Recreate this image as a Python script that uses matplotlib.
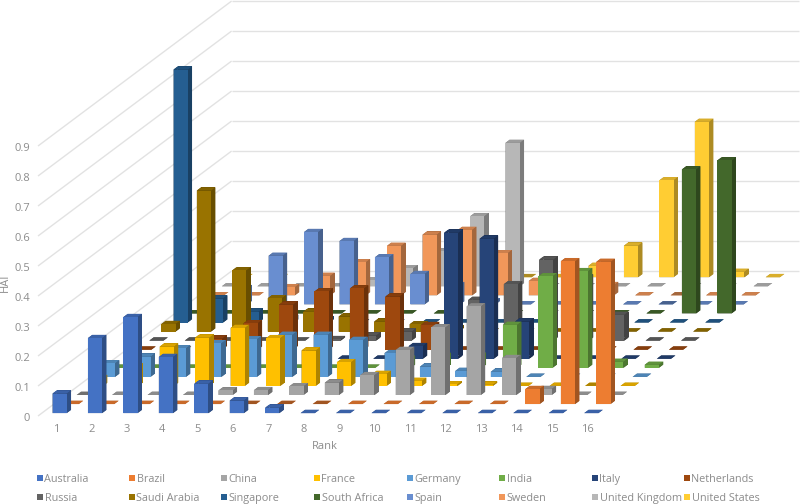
import matplotlib
matplotlib.use("Agg")
import matplotlib.pyplot as plt
from matplotlib.colors import to_rgb
from matplotlib.patches import Rectangle
from mpl_toolkits.mplot3d.art3d import Line3DCollection
import numpy as np

plt.rcParams['font.family'] = ['Open Sans', 'DejaVu Sans']

ranks = list(range(1, 17))
yticks = [0, 0.1, 0.2, 0.3, 0.4, 0.5, 0.6, 0.7, 0.8, 0.9]

australia = [0.065, 0.25, 0.32, 0.187, 0.098, 0.042, 0.018, 0, 0, 0, 0, 0, 0, 0, 0, 0]
brazil = [0, 0, 0, 0, 0, 0, 0, 0, 0, 0, 0, 0, 0, 0.05, 0.476, 0.474]
china = [0, 0, 0, 0, 0.015, 0.016, 0.029, 0.041, 0.066, 0.15, 0.225, 0.295, 0.123, 0.02, 0, 0]
france = [0.026, 0.065, 0.131, 0.161, 0.193, 0.159, 0.118, 0.079, 0.04, 0.017, 0.005, 0.004, 0, 0, 0, 0]
germany = [0.045, 0.067, 0.095, 0.112, 0.125, 0.14, 0.14, 0.123, 0.079, 0.034, 0.02, 0.017, 0, 0, 0, 0]
india = [0, 0, 0, 0, 0, 0, 0, 0, 0.03, 0.04, 0.04, 0.143, 0.305, 0.322, 0.02, 0.01]
italy = [0, 0, 0, 0, 0, 0, 0, 0, 0.042, 0.42, 0.40, 0.124, 0, 0, 0, 0]
netherlands = [0, 0, 0.037, 0.088, 0.15, 0.194, 0.204, 0.177, 0.082, 0, 0, 0, 0, 0, 0, 0]
russia = [0, 0, 0, 0, 0, 0.005, 0.017, 0.03, 0.03, 0.136, 0.188, 0.27, 0.21, 0.086, 0, 0]
saudi_arabia = [0.025, 0.47, 0.204, 0.111, 0.066, 0.05, 0.033, 0.024, 0.01, 0, 0, 0, 0, 0, 0, 0]
singapore = [0.843, 0.08, 0.036, 0.015, 0.01, 0, 0, 0, 0, 0, 0, 0, 0, 0, 0, 0]
south_africa = [0, 0, 0, 0, 0, 0, 0, 0, 0, 0, 0, 0, 0, 0, 0.48, 0.51]
spain = [0, 0.054, 0.162, 0.241, 0.211, 0.157, 0.101, 0.064, 0.01, 0, 0, 0, 0, 0, 0, 0]
sweden = [0, 0, 0.027, 0.065, 0.11, 0.165, 0.202, 0.218, 0.14, 0.048, 0.04, 0.034, 0, 0, 0, 0]
united_kingdom = [0, 0, 0, 0, 0.02, 0.06, 0.116, 0.233, 0.478, 0, 0, 0, 0, 0, 0, 0]
united_states = [0, 0, 0, 0, 0, 0, 0, 0, 0, 0, 0.038, 0.105, 0.323, 0.518, 0.018, 0]

names = ['Australia', 'Brazil', 'China', 'France', 'Germany', 'India', 'Italy', 'Netherlands',
         'Russia', 'Saudi Arabia', 'Singapore', 'South Africa', 'Spain', 'Sweden',
         'United Kingdom', 'United States']
series = [australia, brazil, china, france, germany, india, italy, netherlands,
          russia, saudi_arabia, singapore, south_africa, spain, sweden,
          united_kingdom, united_states]
colors = ['#4472C4', '#ED7D31', '#A5A5A5', '#FFC000', '#5B9BD5', '#70AD47', '#264478', '#9E480E',
          '#636363', '#997300', '#255E91', '#43682B', '#698ED0', '#F1975A', '#B7B7B7', '#FFCD33']

legend_x = [37, 129, 221, 314, 407, 499, 592, 684]
legend_y = [478, 497]

W, H = 800, 504
GRID = '#E2E2E2'
TEXT = '#8C8C8C'

# Excel's 3-D column look: ranks run flat, series go up and to the right
to_pixels = np.array([[35.45, 12.1, 0, 38],
                      [0, 9.06, 300, H - 416],
                      [-0.1, 1, -0.1, 0],
                      [0, 0, 0, 1]], dtype=float)

fig = plt.figure(figsize=(W / 100, H / 100), dpi=100)
ax = fig.add_axes([0, 0, 1, 1], projection='3d')
ax.apply_aspect = lambda position=None: None
ax.computed_zorder = False
ax.set_axis_off()


def oblique_proj():
    inv = ax.transData.inverted().get_matrix()
    to_data = np.array([[inv[0, 0], inv[0, 1], 0, inv[0, 2]],
                        [inv[1, 0], inv[1, 1], 0, inv[1, 2]],
                        [0, 0, 1, 0],
                        [0, 0, 0, 1]])
    return to_data @ to_pixels


ax.get_proj = oblique_proj


def fig_pos(r, s, v, dy=0):
    px, py, _, _ = to_pixels @ np.array([r, s, v, 1.0])
    return px / W, (py + dy) / H


# walls
segments = []
for v in yticks:
    segments.append([(0, 0, v), (0, 16, v)])
    segments.append([(0, 16, v), (16, 16, v)])
    fx, fy = fig_pos(-0.226, 0, v, dy=-2.5)
    fig.text(fx, fy, str(v), ha='right', va='center', fontsize=8, color=TEXT)
ax.add_collection3d(Line3DCollection(segments, colors=GRID, linewidths=1, zorder=0))

for i, r in enumerate(ranks):
    fx, fy = fig_pos(i + 0.5, 0, -0.04, dy=-1.5)
    fig.text(fx, fy, str(r), ha='center', va='center', fontsize=8, color=TEXT)

# bars back to front so that nearer ones cover the others
for j in range(len(series) - 1, -1, -1):
    base = np.array(to_rgb(colors[j]))
    top = tuple(base * 0.85)
    side = tuple(base * 0.68)
    front = tuple(base)
    for i in range(len(ranks) - 1, -1, -1):
        # face order: bottom, top, front, back, left, right
        ax.bar3d(i + 0.3, j + 0.32, 0, 0.4, 0.36, series[j][i],
                 color=[side, top, front, side, side, side],
                 shade=False, linewidth=0, zorder=1)

fig.text(5 / W, 1 - 283 / H, 'HAI', rotation=90, ha='center', va='center', fontsize=8, color=TEXT)
fig.text(325 / W, 1 - 449 / H, 'Rank', ha='center', va='baseline', fontsize=8, color=TEXT)

for k, name in enumerate(names):
    px = legend_x[k % 8]
    py = legend_y[k // 8]
    fig.add_artist(Rectangle((px / W, 1 - (py + 2.5) / H), 5.5 / W, 5.5 / H,
                             transform=fig.transFigure, color=colors[k], lw=0))
    fig.text((px + 7.5) / W, 1 - (py + 4) / H, name, ha='left', va='baseline', fontsize=7.8, color=TEXT)

fig.savefig('out.png', dpi=100)
